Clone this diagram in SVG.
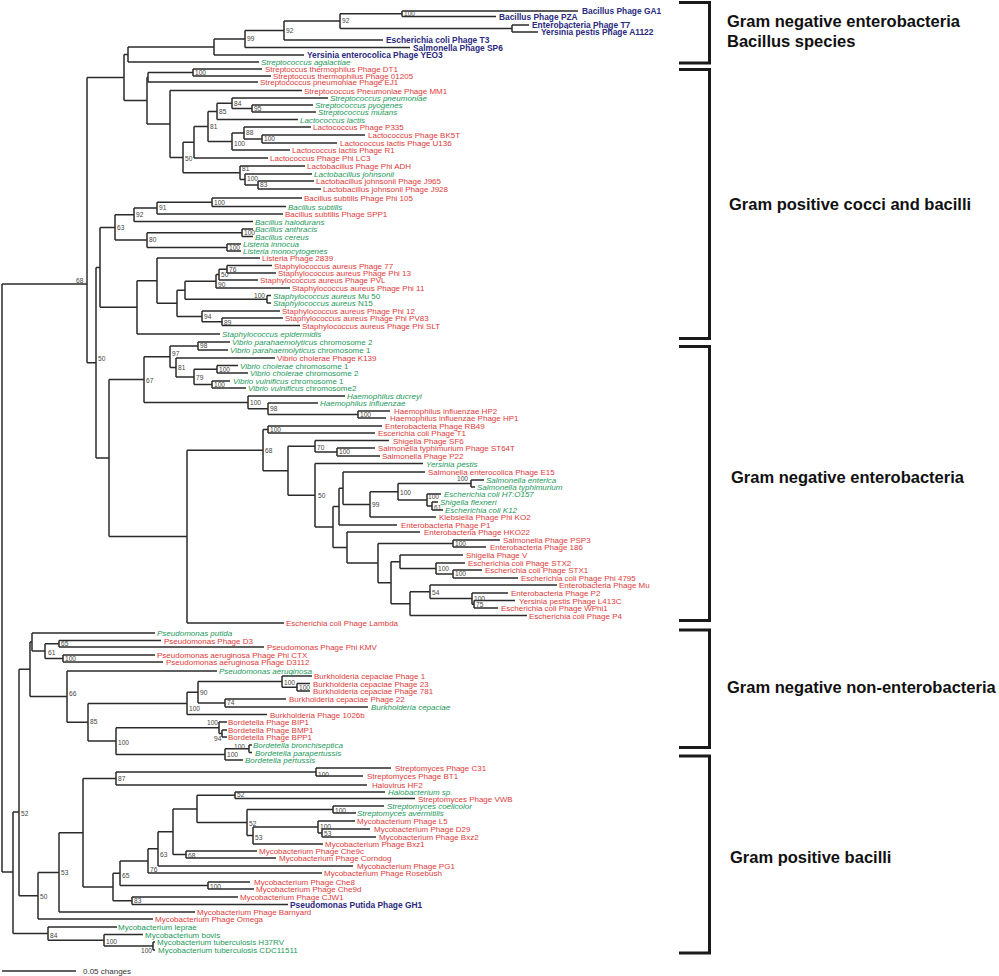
<svg xmlns="http://www.w3.org/2000/svg" width="999" height="976" viewBox="0 0 999 976">
<style>
.br{fill:none;stroke:#2b2b2b;stroke-width:1.5}
.bk{fill:none;stroke:#1a1a1a;stroke-width:3}
text{font-family:"Liberation Sans",Arial,sans-serif}
.r{font-size:8px;fill:#e03a3a}
.g{font-size:8px;fill:#23995a}
.n{font-size:8.4px;fill:#2a2a7e;font-weight:bold}
.i{font-style:italic}
.bs{font-size:6.6px;fill:#444}
.h{font-size:16.5px;font-weight:bold;fill:#111}
.sc{font-size:8px;fill:#333}
</style>
<rect width="999" height="976" fill="#fff"/>
<g id="connectors">
<path class="br" d="M402,11V16.5M402,11H578M402,16.5H496"/>
<path class="br" d="M512,25V32M512,25H529M512,32H538"/>
<path class="br" d="M340,13.75V28.5M340,13.75H402M340,28.5H512"/>
<path class="br" d="M284,21.1V40M284,21.1H340M284,40H383"/>
<path class="br" d="M245,30.5V47.5M245,30.5H284M245,47.5H410"/>
<path class="br" d="M214,39V55M214,39H245M214,55H304"/>
<path class="br" d="M128,47V62M128,47H214M128,62H259"/>
<path class="br" d="M193,69V76M193,69H262M193,76H271"/>
<path class="br" d="M148,72.5V82M148,72.5H193M148,82H258"/>
<path class="br" d="M252,105V112M252,105H313M252,112H316"/>
<path class="br" d="M232,98V108.5M232,98H328M232,108.5H252"/>
<path class="br" d="M217,103.25V119.5M217,103.25H232M217,119.5H298"/>
<path class="br" d="M262,135V143M262,135H365M262,143H337"/>
<path class="br" d="M244,127V139M244,127H311M244,139H262"/>
<path class="br" d="M232,133V150M232,133H244M232,150H290"/>
<path class="br" d="M208,111.4V141.5M208,111.4H217M208,141.5H232"/>
<path class="br" d="M194,126.45V158M194,126.45H208M194,158H268"/>
<path class="br" d="M258,181V189M258,181H314M258,189H321"/>
<path class="br" d="M245,174V185M245,174H312M245,185H258"/>
<path class="br" d="M240,166V179.5M240,166H305M240,179.5H245"/>
<path class="br" d="M183,142.2V172.75M183,142.2H194M183,172.75H240"/>
<path class="br" d="M170,90.5V157.5M170,90.5H302M170,157.5H183"/>
<path class="br" d="M147,77.25V124M147,77.25H148M147,124H170"/>
<path class="br" d="M124,54.5V100.6M124,54.5H128M124,100.6H147"/>
<path class="br" d="M87,77.55V362.7M87,77.55H124M87,362.7H96"/>
<path class="br" d="M212,198V206.5M212,198H302M212,206.5H286"/>
<path class="br" d="M157,202.25V214M157,202.25H212M157,214H283"/>
<path class="br" d="M134,208.1V221.5M134,208.1H157M134,221.5H253"/>
<path class="br" d="M242,229V236.5M242,229H253M242,236.5H253"/>
<path class="br" d="M227,244V251M227,244H241M227,251H241"/>
<path class="br" d="M147,232.75V247.5M147,232.75H242M147,247.5H227"/>
<path class="br" d="M115,214.8V240.1M115,214.8H134M115,240.1H147"/>
<path class="br" d="M227,265.5V273M227,265.5H272M227,273H276"/>
<path class="br" d="M219,269.25V280M219,269.25H227M219,280H258"/>
<path class="br" d="M216,274.6V288M216,274.6H219M216,288H290"/>
<path class="br" d="M267,295.5V303M267,295.5H271M267,303H271"/>
<path class="br" d="M185,281.3V299.25M185,281.3H216M185,299.25H267"/>
<path class="br" d="M222,318V325.5M222,318H283M222,325.5H300"/>
<path class="br" d="M202,311V321.75M202,311H280M202,321.75H222"/>
<path class="br" d="M177,290.3V316.4M177,290.3H185M177,316.4H202"/>
<path class="br" d="M157,258V303.35M157,258H260M157,303.35H177"/>
<path class="br" d="M137,280.7V334M137,280.7H157M137,334H220"/>
<path class="br" d="M100,227.45V307.35M100,227.45H115M100,307.35H137"/>
<path class="br" d="M96,267.4V458M96,267.4H100M96,458H109"/>
<path class="br" d="M198,342V350M198,342H230M198,350H228"/>
<path class="br" d="M217,365.5V373M217,365.5H238M217,373H248"/>
<path class="br" d="M212,381V388M212,381H230M212,388H246"/>
<path class="br" d="M194,369.25V384.5M194,369.25H217M194,384.5H212"/>
<path class="br" d="M176,358V376.9M176,358H275M176,376.9H194"/>
<path class="br" d="M170,346V367.45M170,346H198M170,367.45H176"/>
<path class="br" d="M358,411V418M358,411H390M358,418H386"/>
<path class="br" d="M268,403V414.5M268,403H318M268,414.5H358"/>
<path class="br" d="M248,396V408.75M248,396H345M248,408.75H268"/>
<path class="br" d="M144,356.7V402.4M144,356.7H170M144,402.4H248"/>
<path class="br" d="M268,426V433M268,426H382M268,433H375"/>
<path class="br" d="M337,448V456M337,448H375M337,456H380"/>
<path class="br" d="M315,440.5V452M315,440.5H389M315,452H337"/>
<path class="br" d="M471,480V487M471,480H484M471,487H475"/>
<path class="br" d="M432,502V510M432,502H438M432,510H443"/>
<path class="br" d="M427,494V506M427,494H441M427,506H432"/>
<path class="br" d="M398,483.5V500M398,483.5H471M398,500H427"/>
<path class="br" d="M370,491.75V517M370,491.75H398M370,517H436"/>
<path class="br" d="M343,472V504.4M343,472H425M343,504.4H370"/>
<path class="br" d="M339,488.2V525M339,488.2H343M339,525H397"/>
<path class="br" d="M453,540V547M453,540H500M453,547H486"/>
<path class="br" d="M453,570V578M453,570H482M453,578H518"/>
<path class="br" d="M436,563V574M436,563H465M436,574H453"/>
<path class="br" d="M400,555V568.5M400,555H463M400,568.5H436"/>
<path class="br" d="M474,600.5V608M474,600.5H515M474,608H498"/>
<path class="br" d="M472,593V604.25M472,593H508M472,604.25H474"/>
<path class="br" d="M430,585V598.6M430,585H557M430,598.6H472"/>
<path class="br" d="M410,591.8V615.5M410,591.8H430M410,615.5H527"/>
<path class="br" d="M391,561.75V603.65M391,561.75H400M391,603.65H410"/>
<path class="br" d="M378,543.5V582.7M378,543.5H453M378,582.7H391"/>
<path class="br" d="M347,532V563.1M347,532H420M347,563.1H378"/>
<path class="br" d="M333,506.6V547.55M333,506.6H339M333,547.55H347"/>
<path class="br" d="M315,463.5V527.1M315,463.5H423M315,527.1H333"/>
<path class="br" d="M288,446.25V495.3M288,446.25H315M288,495.3H315"/>
<path class="br" d="M263,429.5V470.8M263,429.5H268M263,470.8H288"/>
<path class="br" d="M187,450.15V623M187,450.15H263M187,623H284"/>
<path class="br" d="M109,379.55V536.6M109,379.55H144M109,536.6H187"/>
<path class="br" d="M59,640.5V647M59,640.5H161M59,647H264"/>
<path class="br" d="M63,655V662M63,655H155M63,662H163"/>
<path class="br" d="M45,643.75V658.5M45,643.75H59M45,658.5H63"/>
<path class="br" d="M32,633V651.1M32,633H155M32,651.1H45"/>
<path class="br" d="M297,683.5V691M297,683.5H310M297,691H310"/>
<path class="br" d="M282,676V687.25M282,676H312M282,687.25H297"/>
<path class="br" d="M225,699V707M225,699H286M225,707H368"/>
<path class="br" d="M198,681.6V703M198,681.6H282M198,703H225"/>
<path class="br" d="M187,692.3V714.5M187,692.3H198M187,714.5H267"/>
<path class="br" d="M222,730V737M222,730H227M222,737H227"/>
<path class="br" d="M219,722V733.5M219,722H227M219,733.5H222"/>
<path class="br" d="M249,745V752.5M249,745H252M249,752.5H252"/>
<path class="br" d="M225,748.75V760M225,748.75H249M225,760H243"/>
<path class="br" d="M116,727.75V754.4M116,727.75H219M116,754.4H225"/>
<path class="br" d="M88,703.4V741.1M88,703.4H187M88,741.1H116"/>
<path class="br" d="M67,671V722.25M67,671H217M67,722.25H88"/>
<path class="br" d="M30,642V696.6M30,642H32M30,696.6H67"/>
<path class="br" d="M316,768V776M316,768H391M316,776H363"/>
<path class="br" d="M116,772V785M116,772H316M116,785H367"/>
<path class="br" d="M235,792V798.5M235,792H385M235,798.5H415"/>
<path class="br" d="M333,806V813M333,806H384M333,813H356"/>
<path class="br" d="M322,829V837M322,829H370M322,837H376"/>
<path class="br" d="M318,821V833M318,821H355M318,833H322"/>
<path class="br" d="M253,827V844M253,827H318M253,844H323"/>
<path class="br" d="M247,809.5V835.5M247,809.5H333M247,835.5H253"/>
<path class="br" d="M197,795.25V822.5M197,795.25H235M197,822.5H247"/>
<path class="br" d="M186,851V858M186,851H257M186,858H276"/>
<path class="br" d="M173,808.9V854.5M173,808.9H197M173,854.5H186"/>
<path class="br" d="M158,831.7V866M158,831.7H173M158,866H353"/>
<path class="br" d="M148,848.85V873M148,848.85H158M148,873H322"/>
<path class="br" d="M208,882V889M208,882H250M208,889H254"/>
<path class="br" d="M120,860.9V885.5M120,860.9H148M120,885.5H208"/>
<path class="br" d="M132,897V904.5M132,897H238M132,904.5H288"/>
<path class="br" d="M113,873.2V900.75M113,873.2H120M113,900.75H132"/>
<path class="br" d="M83,778.5V887M83,778.5H116M83,887H113"/>
<path class="br" d="M59,832.75V912M59,832.75H83M59,912H195"/>
<path class="br" d="M38,872.4V919M38,872.4H59M38,919H153"/>
<path class="br" d="M19,669.3V895.7M19,669.3H30M19,895.7H38"/>
<path class="br" d="M153,942V950M153,942H155M153,950H155"/>
<path class="br" d="M104,934.5V946M104,934.5H143M104,946H153"/>
<path class="br" d="M48,927V940.25M48,927H117M48,940.25H104"/>
<path class="br" d="M13,812V933.6M13,812H19M13,933.6H48"/>
<path class="br" d="M2,284V872M2,284H87M2,872H13"/>
</g>
<g id="scale">
<path class="br" d="M2,971H76"/>
<text class="sc" x="83" y="974">0.05 changes</text>
</g>
<g id="brackets">
<path class="bk" d="M679,2.5H709.5V63H679"/>
<path class="bk" d="M679,69.5H709.5V338.5H679"/>
<path class="bk" d="M679,346.5H709.5V620.5H679"/>
<path class="bk" d="M679,630H709.5V747.5H679"/>
<path class="bk" d="M679,756H709.5V953H679"/>
</g>
<g id="group-labels">
<text class="h" x="727" y="27">Gram negative enterobacteria</text>
<text class="h" x="727" y="47">Bacillus species</text>
<text class="h" x="729" y="210">Gram positive cocci and bacilli</text>
<text class="h" x="731" y="483">Gram negative enterobacteria</text>
<text class="h" x="727" y="693">Gram negative non-enterobacteria</text>
<text class="h" x="730" y="863">Gram positive bacilli</text>
</g>
<g id="leaves">
<g id="l-ga1"><text class="n" x="582" y="14">Bacillus Phage GA1</text></g>
<g id="l-pza"><text class="n" x="499" y="19.5">Bacillus Phage PZA</text></g>
<g id="l-t7"><text class="n" x="532" y="28">Enterobacteria Phage T7</text></g>
<g id="l-a1122"><text class="n" x="541" y="35">Yersinia pestis Phage A1122</text></g>
<g id="l-t3"><text class="n" x="386" y="43">Escherichia coli Phage T3</text></g>
<g id="l-sp6"><text class="n" x="413" y="50.5">Salmonella Phage SP6</text></g>
<g id="l-yeo3"><text class="n" x="307" y="58">Yersinia enterocolica Phage YEO3</text></g>
<g id="l-sagal"><text class="g i" x="261" y="65">Streptococcus agalactiae</text></g>
<g id="l-dt1"><text class="r" x="265" y="72">Streptoccus thermophilus Phage DT1</text></g>
<g id="l-01205"><text class="r" x="273" y="79">Streptoccus thermophilus Phage 01205</text></g>
<g id="l-ej1"><text class="r" x="260" y="85">Streptococcus pneumoniae Phage EJ1</text></g>
<g id="l-mm1"><text class="r" x="304" y="93.5">Streptococcus Pneumoniae Phage MM1</text></g>
<g id="l-spneu"><text class="g i" x="330" y="101">Streptococcus pneumoniae</text></g>
<g id="l-spyo"><text class="g i" x="315" y="108">Streptococcus pyogenes</text></g>
<g id="l-smut"><text class="g i" x="318" y="115">Streptococcus mutans</text></g>
<g id="l-llac"><text class="g i" x="300" y="122.5">Lactococcus lactis</text></g>
<g id="l-p335"><text class="r" x="313" y="130">Lactococcus Phage P335</text></g>
<g id="l-bk5t"><text class="r" x="368" y="138">Lactococcus Phage BK5T</text></g>
<g id="l-u136"><text class="r" x="340" y="146">Lactococcus lactis Phage U136</text></g>
<g id="l-r1"><text class="r" x="292" y="153">Lactococcus lactis Phage R1</text></g>
<g id="l-lc3"><text class="r" x="270" y="161">Lactococcus Phage Phi LC3</text></g>
<g id="l-adh"><text class="r" x="307" y="169">Lactobacillus Phage Phi ADH</text></g>
<g id="l-ljoh"><text class="g i" x="314" y="177">Lactobacillus johnsonii</text></g>
<g id="l-j965"><text class="r" x="316" y="184">Lactobacillus johnsonii Phage J965</text></g>
<g id="l-j928"><text class="r" x="323" y="192">Lactobacillus johnsonii Phage J928</text></g>
<g id="l-phi105"><text class="r" x="304" y="201">Bacillus subtilis Phage Phi 105</text></g>
<g id="l-bsub"><text class="g i" x="288" y="209.5">Bacillus subtilis</text></g>
<g id="l-spp1"><text class="r" x="285" y="217">Bacillus subtilis Phage SPP1</text></g>
<g id="l-bhal"><text class="g i" x="255" y="224.5">Bacillus halodurans</text></g>
<g id="l-banth"><text class="g i" x="255" y="232">Bacillus anthracis</text></g>
<g id="l-bcer"><text class="g i" x="255" y="239.5">Bacillus cereus</text></g>
<g id="l-linn"><text class="g i" x="243" y="247">Listeria innocua</text></g>
<g id="l-lmon"><text class="g i" x="243" y="254">Listeria monocytogenes</text></g>
<g id="l-2839"><text class="r" x="262" y="261">Listeria Phage 2839</text></g>
<g id="l-s77"><text class="r" x="274" y="268.5">Staphylococcus aureus Phage 77</text></g>
<g id="l-phi13"><text class="r" x="278" y="276">Staphylococcus aureus Phage Phi 13</text></g>
<g id="l-pvl"><text class="r" x="260" y="283">Staphylococcus aureus Phage PVL</text></g>
<g id="l-phi11"><text class="r" x="292" y="291">Staphylococcus aureus Phage Phi 11</text></g>
<g id="l-mu50"><text class="g" x="273" y="298.5"><tspan class="i">Staphylococcus aureus</tspan> Mu 50</text></g>
<g id="l-n15"><text class="g" x="273" y="306"><tspan class="i">Staphylococcus aureus</tspan> N15</text></g>
<g id="l-phi12"><text class="r" x="282" y="314">Staphylococcus aureus Phage Phi 12</text></g>
<g id="l-pv83"><text class="r" x="285" y="321">Staphylococcus aureus Phage Phi PV83</text></g>
<g id="l-slt"><text class="r" x="302" y="328.5">Staphylococcus aureus Phage Phi SLT</text></g>
<g id="l-sepi"><text class="g i" x="222" y="337">Staphylococcus epidermidis</text></g>
<g id="l-vp2"><text class="g" x="232" y="345"><tspan class="i">Vibrio parahaemolyticus</tspan> chromosome  2</text></g>
<g id="l-vp1"><text class="g" x="230" y="353"><tspan class="i">Vibrio parahaemolyticus</tspan> chromosome 1</text></g>
<g id="l-k139"><text class="r" x="277" y="361">Vibrio cholerae Phage K139</text></g>
<g id="l-vc1"><text class="g" x="240" y="368.5"><tspan class="i">Vibrio cholerae</tspan> chromosome 1</text></g>
<g id="l-vc2"><text class="g" x="250" y="376"><tspan class="i">Vibrio cholerae</tspan> chromosome 2</text></g>
<g id="l-vv1"><text class="g" x="233" y="384"><tspan class="i">Vibrio vulnificus</tspan> chromosome 1</text></g>
<g id="l-vv2"><text class="g" x="248" y="391"><tspan class="i">Vibrio vulnificus</tspan> chromosome2</text></g>
<g id="l-hduc"><text class="g i" x="347" y="399">Haemophilus ducreyi</text></g>
<g id="l-hinf"><text class="g i" x="320" y="406">Haemophilus influenzae</text></g>
<g id="l-hp2"><text class="r" x="394" y="414">Haemophilus influenzae HP2</text></g>
<g id="l-hp1"><text class="r" x="390" y="421">Haemophilus influenzae Phage HP1</text></g>
<g id="l-rb49"><text class="r" x="385" y="429">Enterobacteria Phage RB49</text></g>
<g id="l-t1"><text class="r" x="378" y="436">Escerichia coli Phage T1</text></g>
<g id="l-sf6"><text class="r" x="393" y="443.5">Shigella Phage SF6</text></g>
<g id="l-st64t"><text class="r" x="378" y="451">Salmonella typhimurium Phage ST64T</text></g>
<g id="l-p22"><text class="r" x="382" y="459">Salmonella Phage P22</text></g>
<g id="l-ypes"><text class="g i" x="426" y="466.5">Yersinia pestis</text></g>
<g id="l-e15"><text class="r" x="428" y="475">Salmonella enterocolica Phage E15</text></g>
<g id="l-sent"><text class="g i" x="486" y="483">Salmonella enterica</text></g>
<g id="l-styp"><text class="g i" x="477" y="490">Salmonella typhimurium</text></g>
<g id="l-h7"><text class="g i" x="444" y="497">Escherichia coli H7:O157</text></g>
<g id="l-sflex"><text class="g i" x="440" y="505">Shigella flexneri</text></g>
<g id="l-k12"><text class="g i" x="445" y="513">Escherichia coli K12</text></g>
<g id="l-ko2"><text class="r" x="439" y="520">Klebsiella Phage Phi KO2</text></g>
<g id="l-p1"><text class="r" x="401" y="528">Enterobacteria Phage P1</text></g>
<g id="l-hko22"><text class="r" x="424" y="535">Enterobacteria Phage HKO22</text></g>
<g id="l-psp3"><text class="r" x="503" y="543">Salmonella Phage PSP3</text></g>
<g id="l-186"><text class="r" x="490" y="550">Enterobacteria Phage 186</text></g>
<g id="l-shv"><text class="r" x="466" y="558">Shigella Phage V</text></g>
<g id="l-stx2"><text class="r" x="468" y="566">Escherichia coli Phage STX2</text></g>
<g id="l-stx1"><text class="r" x="485" y="573">Escherichia coli Phage STX1</text></g>
<g id="l-4795"><text class="r" x="521" y="581">Escherichia coli Phage Phi 4795</text></g>
<g id="l-mu"><text class="r" x="559" y="588">Enterobacteria Phage Mu</text></g>
<g id="l-p2"><text class="r" x="511" y="596">Enterobacteria Phage P2</text></g>
<g id="l-l413c"><text class="r" x="519" y="603.5">Yersinia pestis Phage L413C</text></g>
<g id="l-wphi1"><text class="r" x="501" y="611">Escherichia coli Phage WPhi1</text></g>
<g id="l-p4"><text class="r" x="529" y="618.5">Escherichia coli Phage P4</text></g>
<g id="l-lambda"><text class="r" x="286" y="626">Escherichia coli Phage Lambda</text></g>
<g id="l-pput"><text class="g i" x="157" y="636">Pseudomonas putida</text></g>
<g id="l-d3"><text class="r" x="164" y="643.5">Pseudomonas Phage D3</text></g>
<g id="l-kmv"><text class="r" x="267" y="650">Pseudomonas Phage Phi KMV</text></g>
<g id="l-ctx"><text class="r" x="157" y="658">Pseudomonas aeruginosa Phage Phi CTX</text></g>
<g id="l-d3112"><text class="r" x="166" y="665">Pseudomonas aeruginosa Phage D3112</text></g>
<g id="l-paer"><text class="g i" x="219" y="674">Pseudomonas aeruginosa</text></g>
<g id="l-bc1"><text class="r" x="314" y="679">Burkholderia cepaciae Phage 1</text></g>
<g id="l-bc23"><text class="r" x="313" y="686.5">Burkholderia cepaciae Phage 23</text></g>
<g id="l-bc781"><text class="r" x="313" y="694">Burkholderia cepaciae Phage 781</text></g>
<g id="l-bc22"><text class="r" x="289" y="702">Burkholderia cepaciae Phage 22</text></g>
<g id="l-bcep"><text class="g i" x="371" y="710">Burkholderia cepaciae</text></g>
<g id="l-1026b"><text class="r" x="270" y="717.5">Burkholderia Phage 1026b</text></g>
<g id="l-bip1"><text class="r" x="228" y="725">Bordetella Phage BIP1</text></g>
<g id="l-bmp1"><text class="r" x="228" y="733">Bordetella Phage BMP1</text></g>
<g id="l-bpp1"><text class="r" x="228" y="740">Bordetella Phage BPP1</text></g>
<g id="l-bbro"><text class="g i" x="253" y="748">Bordetella bronchiseptica</text></g>
<g id="l-bpar"><text class="g i" x="255" y="755.5">Bordetella parapertussis</text></g>
<g id="l-bper"><text class="g i" x="245" y="763">Bordetella pertussis</text></g>
<g id="l-c31"><text class="r" x="395" y="771">Streptomyces Phage C31</text></g>
<g id="l-bt1"><text class="r" x="367" y="779">Streptomyces Phage BT1</text></g>
<g id="l-hf2"><text class="r" x="372" y="788">Halovirus HF2</text></g>
<g id="l-halo"><text class="g i" x="388" y="795">Halobacterium sp.</text></g>
<g id="l-vwb"><text class="r" x="418" y="801.5">Streptomyces Phage VWB</text></g>
<g id="l-scoe"><text class="g i" x="387" y="809">Streptomyces coelicolor</text></g>
<g id="l-save"><text class="g i" x="357" y="816">Streptomyces avermitilis</text></g>
<g id="l-l5"><text class="r" x="357" y="824">Mycobacterium Phage L5</text></g>
<g id="l-d29"><text class="r" x="374" y="832">Mycobacterium Phage D29</text></g>
<g id="l-bxz2"><text class="r" x="379" y="840">Mycobacterium Phage Bxz2</text></g>
<g id="l-bxz1"><text class="r" x="325" y="847">Mycobacterium Phage Bxz1</text></g>
<g id="l-che9c"><text class="r" x="259" y="854">Mycobacterium Phage Che9c</text></g>
<g id="l-corn"><text class="r" x="279" y="861">Mycobacterium Phage Corndog</text></g>
<g id="l-pg1"><text class="r" x="357" y="869">Mycobacterium Phage PG1</text></g>
<g id="l-rose"><text class="r" x="324" y="876">Mycobacterium Phage Rosebush</text></g>
<g id="l-che8"><text class="r" x="254" y="885">Mycobacterium Phage Che8</text></g>
<g id="l-che9d"><text class="r" x="256" y="892">Mycobacterium Phage Che9d</text></g>
<g id="l-cjw1"><text class="r" x="240" y="900">Mycobacterium Phage CJW1</text></g>
<g id="l-gh1"><text class="n" x="290" y="907.5">Pseudomonas Putida Phage GH1</text></g>
<g id="l-barn"><text class="r" x="197" y="915">Mycobacterium Phage Barnyard</text></g>
<g id="l-omega"><text class="r" x="155" y="922">Mycobacterium Phage Omega</text></g>
<g id="l-mlep"><text class="g" x="118" y="930">Mycobacterium leprae</text></g>
<g id="l-mbov"><text class="g" x="145" y="937.5">Mycobacterium bovis</text></g>
<g id="l-h37"><text class="g" x="157" y="945">Mycobacterium tuberculosis H37RV</text></g>
<g id="l-cdc"><text class="g" x="158" y="953">Mycobacterium tuberculosis CDC11511</text></g>
</g>
<g id="support">
<g id="b1"><text class="bs" x="404" y="16">100</text></g>
<g id="b2"><text class="bs" x="342" y="23.4">92</text></g>
<g id="b3"><text class="bs" x="286" y="32.8">92</text></g>
<g id="b4"><text class="bs" x="247" y="41.3">99</text></g>
<g id="b5"><text class="bs" x="195" y="74.8">100</text></g>
<g id="b6"><text class="bs" x="234" y="105.5">84</text></g>
<g id="b7"><text class="bs" x="254" y="110.8">95</text></g>
<g id="b8"><text class="bs" x="219" y="113.7">85</text></g>
<g id="b9"><text class="bs" x="210" y="128.7">81</text></g>
<g id="b10"><text class="bs" x="246" y="135.3">88</text></g>
<g id="b11"><text class="bs" x="264" y="141.3">100</text></g>
<g id="b12"><text class="bs" x="234" y="146.3">100</text></g>
<g id="b13"><text class="bs" x="185" y="161">50</text></g>
<g id="b14"><text class="bs" x="242" y="171">81</text></g>
<g id="b15"><text class="bs" x="247" y="181">100</text></g>
<g id="b16"><text class="bs" x="260" y="187.3">83</text></g>
<g id="b17"><text class="bs" x="214" y="204.5">100</text></g>
<g id="b18"><text class="bs" x="159" y="210.4">91</text></g>
<g id="b19"><text class="bs" x="136" y="217.1">92</text></g>
<g id="b20"><text class="bs" x="117" y="229.8">63</text></g>
<g id="b21"><text class="bs" x="244" y="235">100</text></g>
<g id="b22"><text class="bs" x="149" y="242.4">80</text></g>
<g id="b23"><text class="bs" x="229" y="249.8">100</text></g>
<g id="b24"><text class="bs" x="229" y="271.5">76</text></g>
<g id="b25"><text class="bs" x="221" y="277">50</text></g>
<g id="b26"><text class="bs" x="218" y="287">90</text></g>
<g id="b27"><text class="bs" x="254" y="298">100</text></g>
<g id="b28"><text class="bs" x="204" y="319">94</text></g>
<g id="b29"><text class="bs" x="224" y="324.5">89</text></g>
<g id="b30"><text class="bs" x="76" y="283">68</text></g>
<g id="b31"><text class="bs" x="98" y="361">50</text></g>
<g id="b32"><text class="bs" x="200" y="348.3">98</text></g>
<g id="b33"><text class="bs" x="172" y="355.5">97</text></g>
<g id="b34"><text class="bs" x="178" y="370">81</text></g>
<g id="b35"><text class="bs" x="196" y="380">79</text></g>
<g id="b36"><text class="bs" x="219" y="371.5">100</text></g>
<g id="b37"><text class="bs" x="214" y="386.8">100</text></g>
<g id="b38"><text class="bs" x="146" y="382.5">67</text></g>
<g id="b39"><text class="bs" x="250" y="404.7">100</text></g>
<g id="b40"><text class="bs" x="270" y="411">98</text></g>
<g id="b41"><text class="bs" x="360" y="416.8">100</text></g>
<g id="b42"><text class="bs" x="270" y="431.8">100</text></g>
<g id="b43"><text class="bs" x="265" y="452.5">68</text></g>
<g id="b44"><text class="bs" x="317" y="449.5">70</text></g>
<g id="b45"><text class="bs" x="339" y="454.3">100</text></g>
<g id="b46"><text class="bs" x="318" y="497.6">50</text></g>
<g id="b47"><text class="bs" x="457" y="480.5">100</text></g>
<g id="b48"><text class="bs" x="372" y="506.7">99</text></g>
<g id="b49"><text class="bs" x="400" y="495.3">100</text></g>
<g id="b50"><text class="bs" x="428" y="499">100</text></g>
<g id="b51"><text class="bs" x="434" y="509.5">61</text></g>
<g id="b52"><text class="bs" x="455" y="546.2">100</text></g>
<g id="b53"><text class="bs" x="438" y="571">100</text></g>
<g id="b54"><text class="bs" x="455" y="576.3">100</text></g>
<g id="b55"><text class="bs" x="432" y="595">54</text></g>
<g id="b56"><text class="bs" x="474" y="601">100</text></g>
<g id="b57"><text class="bs" x="476" y="607">75</text></g>
<g id="b58"><text class="bs" x="61" y="646.3">65</text></g>
<g id="b59"><text class="bs" x="48" y="654.5">61</text></g>
<g id="b60"><text class="bs" x="65" y="661">100</text></g>
<g id="b61"><text class="bs" x="69" y="695.5">66</text></g>
<g id="b62"><text class="bs" x="284" y="684.5">100</text></g>
<g id="b63"><text class="bs" x="299" y="689.5">100</text></g>
<g id="b64"><text class="bs" x="200" y="694.6">90</text></g>
<g id="b65"><text class="bs" x="227" y="705">74</text></g>
<g id="b66"><text class="bs" x="189" y="711">100</text></g>
<g id="b67"><text class="bs" x="90" y="724">85</text></g>
<g id="b68"><text class="bs" x="207" y="725">100</text></g>
<g id="b69"><text class="bs" x="214" y="740.5">94</text></g>
<g id="b70"><text class="bs" x="118" y="744.5">100</text></g>
<g id="b71"><text class="bs" x="234" y="748.5">100</text></g>
<g id="b72"><text class="bs" x="227" y="756.7">100</text></g>
<g id="b73"><text class="bs" x="118" y="781">87</text></g>
<g id="b74"><text class="bs" x="318" y="776.5">100</text></g>
<g id="b75"><text class="bs" x="237" y="797">52</text></g>
<g id="b76"><text class="bs" x="335" y="812.5">100</text></g>
<g id="b77"><text class="bs" x="249" y="825.5">52</text></g>
<g id="b78"><text class="bs" x="320" y="828.5">100</text></g>
<g id="b79"><text class="bs" x="255" y="839.5">53</text></g>
<g id="b80"><text class="bs" x="324" y="836">53</text></g>
<g id="b81"><text class="bs" x="188" y="857.5">68</text></g>
<g id="b82"><text class="bs" x="160" y="856.5">63</text></g>
<g id="b83"><text class="bs" x="150" y="871.5">76</text></g>
<g id="b84"><text class="bs" x="122" y="877.5">65</text></g>
<g id="b85"><text class="bs" x="210" y="888.5">100</text></g>
<g id="b86"><text class="bs" x="134" y="903">83</text></g>
<g id="b87"><text class="bs" x="61" y="874.5">53</text></g>
<g id="b88"><text class="bs" x="40" y="898.5">50</text></g>
<g id="b89"><text class="bs" x="21" y="815.5">52</text></g>
<g id="b90"><text class="bs" x="50" y="937.5">84</text></g>
<g id="b91"><text class="bs" x="106" y="943.5">100</text></g>
<g id="b92"><text class="bs" x="141" y="952.5">100</text></g>
</g>
</svg>
